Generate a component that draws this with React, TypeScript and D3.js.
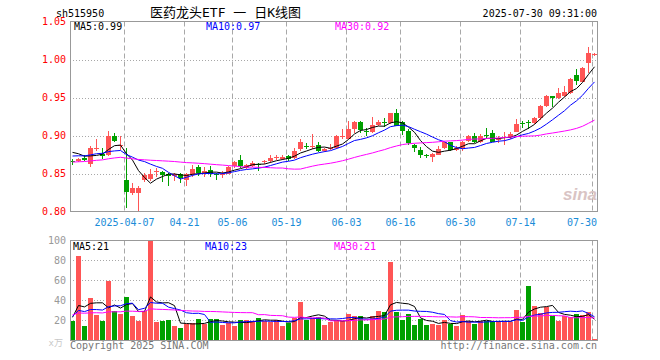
import React from "react";
import * as d3 from "d3";

// Trading days shown (2025), MM-DD
const dates = [
  "03-24", "03-25", "03-26", "03-27", "03-28", "03-31",
  "04-01", "04-02", "04-03", "04-07", "04-08", "04-09", "04-10", "04-11", "04-14", "04-15", "04-16", "04-17", "04-18", "04-21", "04-22", "04-23", "04-24", "04-25", "04-28", "04-29", "04-30",
  "05-06", "05-07", "05-08", "05-09", "05-12", "05-13", "05-14", "05-15", "05-16", "05-19", "05-20", "05-21", "05-22", "05-23", "05-26", "05-27", "05-28", "05-29", "05-30",
  "06-03", "06-04", "06-05", "06-06", "06-09", "06-10", "06-11", "06-12", "06-13", "06-16", "06-17", "06-18", "06-19", "06-20", "06-23", "06-24", "06-25", "06-26", "06-27", "06-30",
  "07-01", "07-02", "07-03", "07-04", "07-07", "07-08", "07-09", "07-10", "07-11", "07-14", "07-15", "07-16", "07-17", "07-18", "07-21", "07-22", "07-23", "07-24", "07-25", "07-28", "07-29", "07-30",
];

const open = [
  0.866, 0.867, 0.870, 0.863, 0.882, 0.876, 0.874, 0.900, 0.887, 0.842,
  0.825, 0.825, 0.841, 0.843, 0.852, 0.852, 0.849, 0.847, 0.849, 0.841,
  0.848, 0.858, 0.850, 0.855, 0.850, 0.848, 0.850, 0.860, 0.868, 0.857,
  0.860, 0.862, 0.866, 0.867, 0.871, 0.869, 0.873, 0.870, 0.882, 0.886,
  0.885, 0.888, 0.879, 0.883, 0.883, 0.899, 0.895, 0.909, 0.918, 0.906,
  0.904, 0.914, 0.918, 0.916, 0.929, 0.918, 0.906, 0.887, 0.881, 0.875,
  0.872, 0.875, 0.883, 0.891, 0.881, 0.883, 0.893, 0.900, 0.891, 0.901,
  0.903, 0.895, 0.897, 0.898, 0.905, 0.917, 0.918, 0.916, 0.923, 0.939,
  0.952, 0.949, 0.952, 0.956, 0.979, 0.971, 0.995, 1.006,
];
const high = [
  0.869, 0.871, 0.874, 0.886, 0.896, 0.883, 0.906, 0.903, 0.899, 0.883,
  0.837, 0.834, 0.851, 0.856, 0.857, 0.853, 0.851, 0.851, 0.851, 0.851,
  0.861, 0.861, 0.859, 0.860, 0.851, 0.853, 0.860, 0.866, 0.875, 0.863,
  0.866, 0.864, 0.868, 0.875, 0.875, 0.875, 0.875, 0.883, 0.896, 0.890,
  0.902, 0.891, 0.884, 0.889, 0.901, 0.909, 0.919, 0.919, 0.919, 0.910,
  0.924, 0.920, 0.923, 0.930, 0.935, 0.919, 0.909, 0.889, 0.885, 0.876,
  0.877, 0.886, 0.892, 0.892, 0.886, 0.893, 0.901, 0.903, 0.902, 0.910,
  0.907, 0.899, 0.904, 0.904, 0.922, 0.919, 0.920, 0.924, 0.940, 0.953,
  0.952, 0.962, 0.965, 0.976, 0.987, 0.990, 1.016, 1.008,
];
const low = [
  0.861, 0.865, 0.866, 0.858, 0.879, 0.869, 0.873, 0.891, 0.881, 0.804,
  0.822, 0.800, 0.839, 0.840, 0.846, 0.839, 0.833, 0.840, 0.838, 0.834,
  0.846, 0.847, 0.846, 0.846, 0.842, 0.844, 0.849, 0.857, 0.857, 0.856,
  0.859, 0.853, 0.863, 0.864, 0.868, 0.868, 0.867, 0.869, 0.879, 0.882,
  0.882, 0.878, 0.878, 0.881, 0.882, 0.896, 0.895, 0.903, 0.903, 0.899,
  0.903, 0.912, 0.911, 0.915, 0.912, 0.901, 0.887, 0.878, 0.870, 0.870,
  0.865, 0.874, 0.882, 0.880, 0.879, 0.879, 0.892, 0.890, 0.890, 0.897,
  0.891, 0.890, 0.888, 0.896, 0.904, 0.910, 0.908, 0.915, 0.921, 0.938,
  0.938, 0.948, 0.951, 0.955, 0.967, 0.970, 0.982, 1.005,
];
const close = [
  0.865, 0.869, 0.868, 0.884, 0.883, 0.873, 0.900, 0.893, 0.888, 0.826,
  0.831, 0.831, 0.848, 0.850, 0.853, 0.848, 0.847, 0.849, 0.844, 0.849,
  0.856, 0.851, 0.853, 0.850, 0.849, 0.850, 0.858, 0.865, 0.860, 0.861,
  0.864, 0.861, 0.866, 0.871, 0.872, 0.872, 0.869, 0.880, 0.892, 0.885,
  0.886, 0.879, 0.882, 0.884, 0.899, 0.900, 0.909, 0.918, 0.907, 0.905,
  0.914, 0.918, 0.917, 0.929, 0.913, 0.906, 0.890, 0.883, 0.875, 0.873,
  0.876, 0.882, 0.891, 0.881, 0.884, 0.891, 0.899, 0.891, 0.900, 0.900,
  0.892, 0.896, 0.898, 0.902, 0.915, 0.916, 0.917, 0.923, 0.939, 0.952,
  0.949, 0.956, 0.957, 0.975, 0.972, 0.989, 1.009, 1.007,
];
// volume, 万
const volume = [
  20, 85, 15, 42.7, 25.7, 20, 60, 29.3, 27, 43.7,
  24.7, 20, 29.3, 100, 18.7, 20, 21, 14.7, 12.7, 16.7,
  17.7, 21.7, 16.7, 21.7, 21.7, 15.7, 17.7, 14.7, 20.7, 20.7,
  19.7, 22.7, 19.7, 18.7, 20.7, 15, 17.7, 22.7, 38.7, 20.7,
  22.7, 23.7, 16, 18.7, 19.4, 19.4, 26.7, 24.7, 24.7, 16.7,
  24.7, 29.7, 28.7, 78.7, 28.5, 20.7, 26.5, 15.7, 21.7, 15.7,
  16.7, 15.7, 20.7, 16.7, 14.7, 25.7, 19.7, 16.7, 19.7, 19.7,
  19.7, 18.7, 18.7, 18.7, 30.7, 18.7, 54.7, 34.7, 27.7, 33.7,
  24.7, 19.7, 24.7, 23.7, 26.7, 25.7, 28.7, 1.7,
];
// closes / volumes before the visible window, only feeding the moving averages
const priorCloses = [
  0.856, 0.858, 0.861, 0.859, 0.855, 0.857, 0.860, 0.862, 0.858, 0.856,
  0.859, 0.863, 0.866, 0.864, 0.861, 0.860, 0.863, 0.867, 0.869, 0.866,
  0.866, 0.869, 0.871, 0.868, 0.867, 0.878, 0.884, 0.882, 0.880,
];
const priorVolume = [
  28, 24, 31, 22, 27, 26, 30, 25, 23, 29, 27, 24, 26, 32, 25, 28, 23, 26, 27, 27,
  24, 27, 22, 26, 25, 26, 22, 25, 23,
];

const priceTicks = [1.05, 1.0, 0.95, 0.9, 0.85, 0.8];
const volTicks = [100, 80, 60, 40, 20];
const xTicks = ["04-07", "04-21", "05-06", "05-19", "06-03", "06-16", "06-30", "07-14", "07-30"];
const xTickLabels = ["2025-04-07", "04-21", "05-06", "05-19", "06-03", "06-16", "06-30", "07-14", "07-30"];
const priceLegend = ["MA5:0.99", "MA10:0.97", "MA30:0.92"];
const volLegend = ["MA5:21", "MA10:23", "MA30:21"];

const RED = "#ff5555";
const GREEN = "#00a000";
const GRID = "#a8a8a8";
const MONO = "'DejaVu Sans Mono', 'Liberation Mono', monospace";
const maColors = ["#000000", "#0000ff", "#ff00ff"];
const maPeriods = [5, 10, 30];

function movingAvg(prior: number[], vals: number[], n: number) {
  const all = prior.concat(vals);
  return vals.map((_v, i) => {
    const end = prior.length + i + 1;
    return d3.mean(all.slice(Math.max(0, end - n), end)) as number;
  });
}

export default function App() {
  const left = 70;
  const right = 598;
  const x = d3.scaleBand<string>().domain(dates).range([left, right]);
  const bw = x.bandwidth() - 1;
  const cx = (d: string) => (x(d) as number) + bw / 2;

  const y = d3.scaleLinear().domain([0.8, 1.05]).range([211.5, 21.5]);
  const yv = d3.scaleLinear().domain([0, 100]).range([340.5, 240.5]);

  const priceMA = maPeriods.map((n) => movingAvg(priorCloses, close, n));
  const volMA = maPeriods.map((n) => movingAvg(priorVolume, volume, n));
  const priceLine = d3.line<number>().x((_d, i) => cx(dates[i])).y((d) => y(d));
  const volLine = d3.line<number>().x((_d, i) => cx(dates[i])).y((d) => yv(d));

  const legendX = [74, 206, 335];

  return (
    <svg width={660} height={360} style={{ position: "absolute", left: 0, top: 0, background: "#fff" }}
      fontFamily={MONO} fontSize={10}>
      {/* header */}
      <text x={56} y={16.5} fill="#000">sh515950</text>
      <text x={150} y={16.5} fontSize={13} fontFamily="'DejaVu Sans Mono', 'Noto Sans CJK SC'" fill="#000">
        医药龙头ETF 一 日K线图
      </text>
      <text x={597} y={16.5} textAnchor="end" fill="#000">2025-07-30 09:31:00</text>

      {/* price grid */}
      {priceTicks.slice(1, -1).map((t) => (
        <line key={t} x1={left} x2={right} y1={Math.round(y(t)) + 0.5} y2={Math.round(y(t)) + 0.5}
          stroke={GRID} strokeDasharray="1,2" />
      ))}
      {xTicks.map((d) => (
        <g key={d}>
          <line x1={(x(d) as number) + 0.5} x2={(x(d) as number) + 0.5} y1={21.5} y2={211.5}
            stroke={GRID} strokeDasharray="5,3" />
          <line x1={(x(d) as number) + 0.5} x2={(x(d) as number) + 0.5} y1={240.5} y2={340.5}
            stroke={GRID} strokeDasharray="5,3" />
        </g>
      ))}
      {priceTicks.map((t) => (
        <text key={t} x={66} y={y(t) + 3.5} textAnchor="end" fill="#ff0000">{t.toFixed(2)}</text>
      ))}
      {xTicks.map((d, i) => {
        const px = (x(d) as number) + 0.5;
        const w = xTickLabels[i].length * 6.02;
        const lx = Math.min(px, 597 - w / 2);
        return (
          <text key={d} x={lx} y={226} textAnchor="middle" fill="#1a8cd8">{xTickLabels[i]}</text>
        );
      })}

      {/* sina watermark */}
      <text x={563} y={200} fontFamily="'Liberation Sans', sans-serif" fontStyle="italic" fontWeight="bold"
        fontSize={17} fill="#d9c4c4">sina</text>

      {/* candles */}
      {dates.map((d, i) => {
        const up = close[i] >= open[i];
        const col = up ? RED : GREEN;
        const top = Math.round(y(Math.max(open[i], close[i])));
        const bot = Math.round(y(Math.min(open[i], close[i])));
        return (
          <g key={d}>
            <line x1={cx(d)} x2={cx(d)} y1={Math.round(y(high[i]))} y2={Math.round(y(low[i]))} stroke={col} />
            <rect x={x(d)} y={top} width={bw} height={Math.max(1, bot - top)} fill={col} />
          </g>
        );
      })}
      {priceMA.map((m, k) => (
        <path key={k} d={priceLine(m) as string} fill="none" stroke={maColors[k]} strokeWidth={1} />
      ))}
      <rect x={70.5} y={21.5} width={527} height={190} fill="none" stroke="#999" />
      {priceLegend.map((t, k) => (
        <text key={t} x={legendX[k]} y={29.5} fill={maColors[k]}>{t}</text>
      ))}

      {/* volume */}
      {volTicks.slice(1).map((t) => (
        <line key={t} x1={left} x2={right} y1={yv(t)} y2={yv(t)} stroke={GRID} strokeDasharray="1,2" />
      ))}
      {volTicks.map((t) => (
        <text key={t} x={66} y={yv(t) + 3.5} textAnchor="end" fill="#999">{t}</text>
      ))}
      <text x={63} y={346} textAnchor="end" fill="#c8c8c8" fontSize={9}
        fontFamily="'DejaVu Sans Mono', 'Noto Sans CJK SC'">x万</text>
      {dates.map((d, i) => {
        const top = Math.round(yv(Math.min(volume[i], 100)));
        return (
          <rect key={d} x={x(d)} y={top} width={bw} height={Math.max(1, 340.5 - top)}
            fill={close[i] >= open[i] ? RED : GREEN} />
        );
      })}
      {volMA.map((m, k) => (
        <path key={k} d={volLine(m) as string} fill="none" stroke={maColors[k]} strokeWidth={1} />
      ))}
      <rect x={70.5} y={240.5} width={527} height={100} fill="none" stroke="#999" />
      {volLegend.map((t, k) => (
        <text key={t} x={legendX[k] - 1} y={249.5} fill={maColors[k]}>{t}</text>
      ))}

      {/* footer */}
      <text x={70} y={349} fill="#777">Copyright 2025 SINA.COM</text>
      <text x={597} y={349} textAnchor="end" fill="#777">http://finance.sina.com.cn</text>
    </svg>
  );
}
